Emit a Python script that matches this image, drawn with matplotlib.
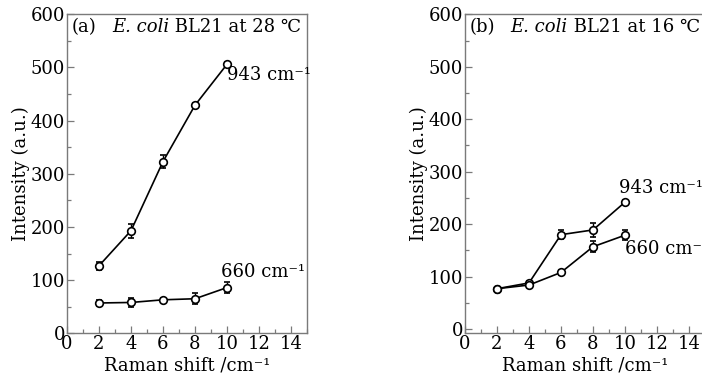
import matplotlib
matplotlib.use("Agg")
import matplotlib.pyplot as plt
from matplotlib.ticker import MultipleLocator

plt.rcParams['font.family'] = ['DejaVu Serif', 'Noto Sans CJK SC']

# 라만 이동 (x)
shift = [2, 4, 6, 8, 10]

# (a) 28 ℃
a943 = [127, 193, 323, 429, 506]
a943_err = [7, 13, 13, 4, 4]
a660 = [57, 58, 63, 65, 86]
a660_err = [5, 8, 4, 10, 10]

# (b) 16 ℃
b943 = [77, 88, 180, 189, 242]
b943_err = [3, 3, 8, 13, 4]
b660 = [77, 84, 108, 157, 179]
b660_err = [3, 3, 4, 10, 10]

panel_tags = ['(a)', '(b)']
temps = ['28', '16']
xticks = [0, 2, 4, 6, 8, 10, 12, 14]
yticks = [0, 100, 200, 300, 400, 500, 600]

W, H = 702, 379
fig = plt.figure(figsize=(W / 100, H / 100), dpi=100)
axA = fig.add_axes([67 / W, (H - 333.3) / H, 240 / W, 319 / H])
axB = fig.add_axes([465 / W, (H - 333.3) / H, 240 / W, 319 / H])

spine_c = '#7a7a7a'
fs = 13

def draw(ax, s943, e943, s660, e660, tag, temp, ylim, lab943, lab660):
    for ys, es in [(s943, e943), (s660, e660)]:
        ax.errorbar(shift, ys, yerr=es, color='black', lw=1.2, marker='o',
                    ms=5.5, mfc='white', mec='black', mew=1.2,
                    capsize=2.5, elinewidth=1.0, capthick=1.0, zorder=3)
    ax.set_xlim(0, 15)
    ax.set_ylim(*ylim)
    ax.set_xticks(xticks)
    ax.set_yticks(yticks)
    ax.xaxis.set_minor_locator(MultipleLocator(1))
    ax.yaxis.set_minor_locator(MultipleLocator(50))
    ax.tick_params(which='both', direction='in', top=False, right=False,
                   color=spine_c, labelsize=fs, pad=1.5)
    ax.tick_params(which='major', length=5, width=0.9)
    ax.tick_params(which='minor', length=3, width=0.9)
    for sp in ax.spines.values():
        sp.set_color(spine_c)
        sp.set_linewidth(1.0)
    ax.set_xlabel('Raman shift /cm⁻¹', fontsize=fs, labelpad=2)
    ax.set_ylabel('Intensity (a.u.)', fontsize=fs, labelpad=0)

    t1 = ax.text(0.02, 0.96, tag, transform=ax.transAxes, fontsize=fs,
                 ha='left', va='center')
    t2 = ax.annotate('E. coli', xy=(1, 0), xycoords=t1, xytext=(11, 0),
                     textcoords='offset points', fontsize=fs, style='italic',
                     ha='left', va='bottom')
    ax.annotate(' BL21 at ' + temp + ' ℃', xy=(1, 0), xycoords=t2,
                fontsize=fs, ha='left', va='bottom', annotation_clip=False)

    ax.text(lab943[0], lab943[1], '943 cm⁻¹', fontsize=fs, ha='left', va='center')
    ax.text(lab660[0], lab660[1], '660 cm⁻¹', fontsize=fs, ha='left', va='center')

draw(axA, a943, a943_err, a660, a660_err, panel_tags[0], temps[0], (0, 600),
     (10.0, 485), (9.6, 115))
draw(axB, b943, b943_err, b660, b660_err, panel_tags[1], temps[1], (-8, 600),
     (9.6, 268), (10.0, 153))

fig.savefig('out.png', dpi=100)
